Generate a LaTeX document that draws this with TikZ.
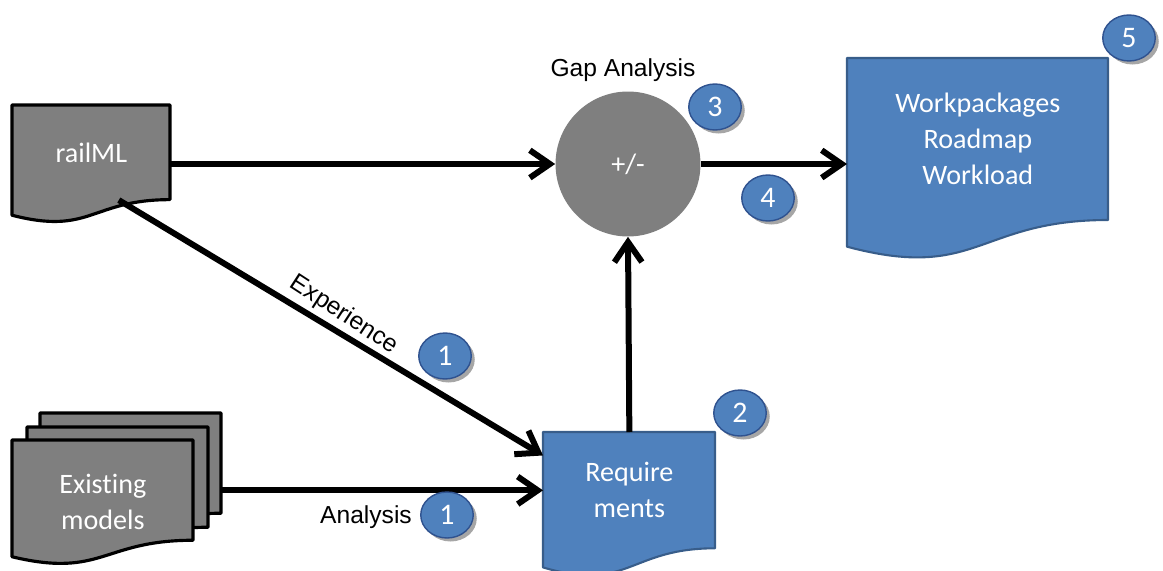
\documentclass[tikz,border=0pt]{standalone}
\usepackage{fontspec}
\setmainfont{Carlito}[Ligatures=NoCommon]
\newfontfamily\arialfont{Liberation Sans}
\usepackage{tikz}
\usetikzlibrary{calc}
\usetikzlibrary{shapes.geometric}
\usetikzlibrary{shadows}
\usetikzlibrary{arrows.meta}
\definecolor{docgray}{RGB}{127,127,127}
\definecolor{docblue}{RGB}{79,129,189}
\definecolor{docblueline}{RGB}{56,93,138}
\definecolor{badgeline}{RGB}{47,82,143}
% wavy sheet: name, left, top, width, height, style, text
\newcommand{\sheet}[7]{
 \filldraw[#6, line join=round] (#2,#3) -- ({#2+#4},#3) -- ({#2+#4},{#3+0.802*#5})
  .. controls ({#2+0.5*#4},{#3+0.802*#5}) and ({#2+0.5*#4},{#3+1.107*#5}) .. (#2,{#3+0.934*#5}) -- cycle;
 \node[sheettext, minimum width={#4*0.02cm}, minimum height={0.8*#5*0.02cm}, anchor=north west] (#1) at (#2,#3) {#7};}
% numbered badge: name, x, y, number
\newcommand{\badge}[4]{\node[numbadge] (#1) at (#2,#3) {#4};}

\begin{document}
\begin{tikzpicture}[x=0.02cm, y=-0.02cm,
 graysheet/.style={fill=docgray, draw=black, line width=1.8pt},
 bluesheet/.style={fill=docblue, draw=docblueline, line width=1.2pt},
 sheettext/.style={text=white, font=\fontsize{16}{20.5}\selectfont, align=center, inner sep=0pt},
 flow/.style={line width=0.12cm, -{Straight Barb[length=4mm,width=5.5mm]}},
 numbadge/.style={ellipse, fill=docblue, draw=badgeline, line width=0.8pt, minimum width=1.05cm,
  minimum height=0.92cm, inner sep=0pt, text=white, font=\fontsize{17}{17}\selectfont,
  drop shadow={shadow xshift=2pt, shadow yshift=-2pt, opacity=0.7}},
 lbl/.style={font=\arialfont\fontsize{14}{16}\selectfont}]
\useasboundingbox (0,0) rectangle (1163,571);
% input sheets
\sheet{railml}{12}{105}{158}{118}{graysheet}{railML}
\sheet{models3}{40}{413}{181}{125}{graysheet}{}
\sheet{models2}{27}{427}{181}{125}{graysheet}{}
\sheet{models}{12}{440}{181}{125}{graysheet}{}
\node[sheettext] (modelstxt) at ([yshift=-0.24cm]models.center) {Existing\\models};
% output sheets
\sheet{req}{543}{432}{172}{145}{bluesheet}{Require\\ments}
\sheet{work}{847}{58}{261}{202}{bluesheet}{Workpackages\\Roadmap\\Workload}
% gap analysis
\node[circle, fill=docgray, minimum size=2.9cm, text=white, font=\fontsize{16}{20}\selectfont] (gap) at (628,164) {+/-};
\node[lbl] (gaplbl) at (623,70) {Gap Analysis};
% connectors
\draw[flow] (railml.east |- gap.west) -- (gap.west);
\draw[flow] (gap.east) -- (work.west |- gap.east);
\draw[flow] (req.north) -- (gap.south);
\draw[flow] (railml.-60) -- (req.158);
\draw[flow] (models3.east |- req.west) -- (req.west);
\node[lbl, rotate=-33] (explbl) at (344,315) {Experience};
\node[lbl] (analbl) at (366,517) {Analysis};
% badges
\badge{b1a}{445}{356}{1}
\badge{b1b}{447}{515}{1}
\badge{b2}{740}{413}{2}
\badge{b3}{715}{107}{3}
\badge{b4}{768}{198}{4}
\badge{b5}{1129}{38}{5}
\end{tikzpicture}
\end{document}
